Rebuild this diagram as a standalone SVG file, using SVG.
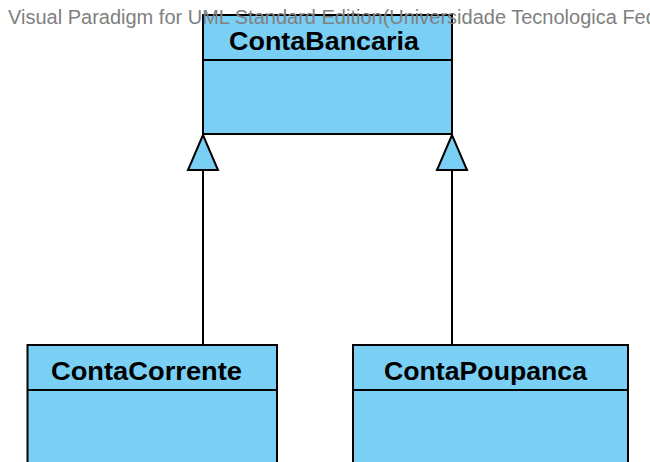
<svg xmlns="http://www.w3.org/2000/svg" width="650" height="462" viewBox="0 0 650 462">
  <style>
    .box { fill: #7acff5; stroke: #000; stroke-width: 2; }
    .div { stroke: #000; stroke-width: 2; fill: none; }
    .name { font-family: "Liberation Sans", Arial, sans-serif; font-weight: bold; font-size: 25px; fill: #000; }
    .edge { stroke: #000; stroke-width: 2; fill: none; }
    .head { fill: #7acff5; stroke: #000; stroke-width: 2; stroke-linejoin: miter; }
    .wm { font-family: "Liberation Sans", Arial, sans-serif; font-size: 20px; fill: #808080; }
  </style>
  <rect width="650" height="462" fill="#fff"/>

  <g id="ContaBancaria">
    <rect class="box" x="203" y="15" width="249" height="119"/>
    <line class="div" x1="203" y1="60" x2="452" y2="60"/>
    <text class="name" x="229" y="49.5" textLength="190" lengthAdjust="spacingAndGlyphs">ContaBancaria</text>
  </g>

  <g id="ContaCorrente">
    <rect class="box" x="27.5" y="345" width="249.5" height="130"/>
    <line class="div" x1="27.5" y1="390" x2="277" y2="390"/>
    <text class="name" x="51" y="380" textLength="191" lengthAdjust="spacingAndGlyphs">ContaCorrente</text>
  </g>

  <g id="ContaPoupanca">
    <rect class="box" x="353" y="345" width="275" height="130"/>
    <line class="div" x1="353" y1="390" x2="628" y2="390"/>
    <text class="name" x="384" y="380" textLength="203" lengthAdjust="spacingAndGlyphs">ContaPoupanca</text>
  </g>

  <g id="connectors">
    <line class="edge" x1="203" y1="170" x2="203" y2="344"/>
    <polygon class="head" points="203,135 188,170 218,170"/>
    <line class="edge" x1="452" y1="170" x2="452" y2="344"/>
    <polygon class="head" points="452,135 437,170 467,170"/>
  </g>

  <text class="wm" x="8" y="24">Visual Paradigm for UML Standard Edition(Universidade Tecnologica Fed</text>
</svg>
